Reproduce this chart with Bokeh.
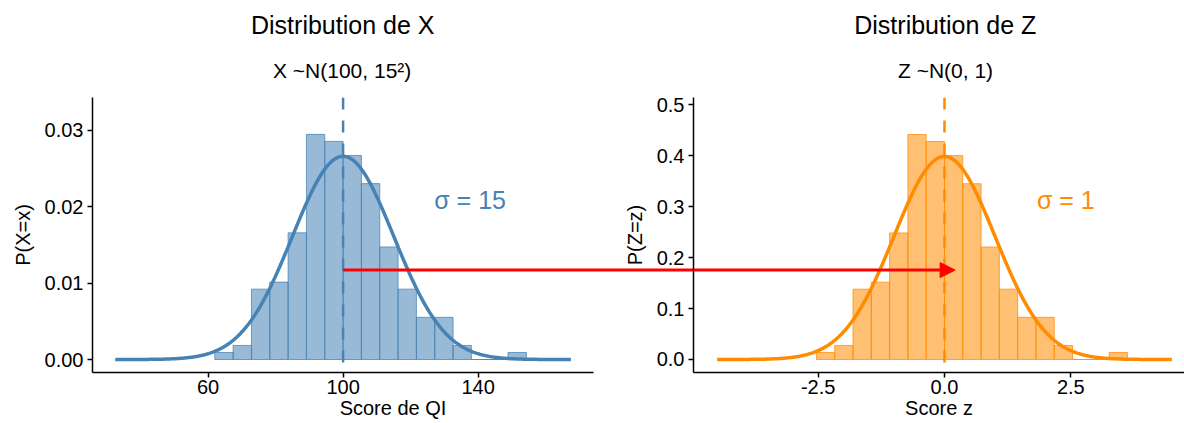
import numpy as np
from bokeh.plotting import figure
from bokeh.layouts import row
from bokeh.models import (FixedTicker, NumeralTickFormatter, Span, Label, Arrow,
                          NormalHead, Range1d, ColumnDataSource, Title)
from bokeh.embed import file_html
from bokeh.resources import INLINE

# ---------------- data ----------------
MU_X, SIGMA_X = 100, 15          # X ~ N(100, 15^2)
MU_Z, SIGMA_Z = 0, 1             # Z ~ N(0, 1)
N_OBS = 200
bin_edges_z = [-2.534, -2.172, -1.810, -1.448, -1.086, -0.724, -0.362, 0.0,
               0.362, 0.724, 1.086, 1.448, 1.810, 2.172, 2.534, 2.896, 3.258, 3.620]
counts = [1, 2, 10, 11, 18, 32, 31, 29, 25, 16, 10, 6, 6, 2, 0, 0, 1]

x_ticks = [60, 100, 140]
z_ticks = [-2.5, 0.0, 2.5]
px_ticks = [0.00, 0.01, 0.02, 0.03]
pz_ticks = [0.0, 0.1, 0.2, 0.3, 0.4, 0.5]
titles = ["Distribution de X", "Distribution de Z"]
subtitles = ["X ~N(100, 15²)", "Z ~N(0, 1)"]
sigma_labels = ["σ = 15", "σ = 1"]
x_labels = ["Score de QI", "Score z"]
y_labels = ["P(X=x)", "P(Z=z)"]

FONT = "Liberation Sans"
STEEL = "#4682B4"
ORANGE = "#FF8C00"
H = 423
TOP, BOTTOM = 97, 51
FRAME_H = H - TOP - BOTTOM
OVERLAP = 93   # right figure's left border overlaps the left figure


def panel(mu, sigma, color, width, bl, br, xr, xbounds, yr, xt, yt, yfmt, xfmt,
          title, subtitle, title_off, sub_off, sig_text, sig_x, sig_y, xlab, ylab):
    p = figure(width=width, height=H, x_range=Range1d(*xr), y_range=Range1d(*yr),
               output_backend="svg", toolbar_location=None,
               min_border_left=bl, min_border_right=br,
               min_border_top=TOP, min_border_bottom=BOTTOM)
    p.xgrid.visible = False
    p.ygrid.visible = False
    p.outline_line_color = None

    # histogram (density scale)
    edges = mu + sigma * np.array(bin_edges_z)
    bw = edges[1] - edges[0]
    dens = np.array(counts) / (N_OBS * bw)
    src = ColumnDataSource(dict(left=edges[:-1], right=edges[1:], top=dens,
                                bottom=np.zeros(len(dens))))
    p.quad(left="left", right="right", top="top", bottom="bottom", source=src,
           fill_color=color, fill_alpha=0.55, line_color=color, line_alpha=0.75,
           line_width=1)

    # theoretical normal density N(mu, sigma^2)
    xs = np.linspace(mu - 4.5 * sigma, mu + 4.5 * sigma, 400)
    ys = np.exp(-0.5 * ((xs - mu) / sigma) ** 2) / (sigma * np.sqrt(2 * np.pi))
    p.line(xs, ys, line_color=color, line_width=3.5)

    p.add_layout(Span(location=mu, dimension="height", line_color=color,
                      line_width=2.5, line_dash="12 11"))

    p.add_layout(Label(x=sig_x, y=sig_y, text=sig_text, text_align="left",
                       text_baseline="middle", text_font=FONT,
                       text_font_size="25px", text_color=color))

    # subtitle first (closest to frame), then main title above it
    p.add_layout(Title(text=subtitle, align="left", offset=sub_off,
                       vertical_align="top", standoff=28, text_font=FONT,
                       text_font_size="21px", text_font_style="normal",
                       text_color="black"), "above")
    p.add_layout(Title(text=title, align="left", offset=title_off,
                       vertical_align="top", standoff=8, text_font=FONT,
                       text_font_size="25px", text_font_style="normal",
                       text_color="black"), "above")

    for ax in (p.xaxis[0], p.yaxis[0]):
        ax.axis_line_color = "black"
        ax.axis_line_width = 1.5
        ax.major_tick_line_color = "black"
        ax.major_tick_line_width = 1.5
        ax.major_tick_in = 0
        ax.major_tick_out = 5
        ax.minor_tick_line_color = None
        ax.major_label_text_font = FONT
        ax.major_label_text_font_size = "20px"
        ax.major_label_text_color = "black"
        ax.axis_label_text_font = FONT
        ax.axis_label_text_font_size = "20px"
        ax.axis_label_text_font_style = "normal"
        ax.axis_label_text_color = "black"
    p.xaxis[0].bounds = xbounds
    p.xaxis[0].ticker = FixedTicker(ticks=xt)
    p.yaxis[0].ticker = FixedTicker(ticks=yt)
    p.xaxis[0].formatter = NumeralTickFormatter(format=xfmt)
    p.yaxis[0].formatter = NumeralTickFormatter(format=yfmt)
    p.xaxis[0].major_label_standoff = 2
    p.xaxis[0].axis_label_standoff = 0
    p.yaxis[0].major_label_standoff = 4
    p.yaxis[0].axis_label_standoff = 8
    p.xaxis[0].axis_label = xlab
    p.yaxis[0].axis_label = ylab
    return p


left_yr = (-0.0017, 0.03429)
right_yr = (-0.02554, 0.5147)
X_PPU = 3.375      # pixels per X unit
Z_PPU = 50.53      # pixels per z unit
L_FRAME_LEFT, R_FRAME_LEFT = 92, 693
left_w = 600 + OVERLAP
left_xr = (25.75, 25.75 + (left_w - L_FRAME_LEFT) / X_PPU)
right_w = 1184 - 600
right_xr = (-4.967, -4.967 + (1184 - R_FRAME_LEFT) / Z_PPU)

# title placement: centre of text over the mean, using estimated text widths
L_CENTER, R_CENTER = 342.5, 945.0
W_TITLE = [184.0, 182.5]
W_SUB = [140.0, 95.0]

p1 = panel(MU_X, SIGMA_X, STEEL, left_w, L_FRAME_LEFT, 0, left_xr, (25.75, 174.2),
           left_yr, x_ticks, px_ticks, "0.00", "0", titles[0], subtitles[0],
           L_CENTER - L_FRAME_LEFT - W_TITLE[0] / 2,
           L_CENTER - L_FRAME_LEFT - W_SUB[0] / 2,
           sigma_labels[0], 127.0, 0.02084, x_labels[0], y_labels[0])
p2 = panel(MU_Z, SIGMA_Z, ORANGE, right_w, R_FRAME_LEFT - 600, 0, right_xr,
           (-4.967, 4.75), right_yr, z_ticks, pz_ticks, "0.0", "0.0",
           titles[1], subtitles[1],
           R_CENTER - R_FRAME_LEFT - W_TITLE[1] / 2,
           R_CENTER - R_FRAME_LEFT - W_SUB[1] / 2,
           sigma_labels[1], 1.83, 0.3128, x_labels[1], y_labels[1])
p1.background_fill_color = "white"
p1.border_fill_color = "white"
p2.background_fill_color = None
p2.border_fill_color = None
p2.margin = (0, 0, 0, -OVERLAP)

# red arrow crossing from X panel to Z panel
ARROW_PX_BELOW_TOP = 172.6
yA1 = left_yr[1] - ARROW_PX_BELOW_TOP * (left_yr[1] - left_yr[0]) / FRAME_H
yA2 = right_yr[1] - ARROW_PX_BELOW_TOP * (right_yr[1] - right_yr[0]) / FRAME_H
p1.add_layout(Arrow(end=None, x_start=MU_X, y_start=yA1, x_end=400, y_end=yA1,
                    line_color="red", line_width=3))
p2.add_layout(Arrow(end=NormalHead(size=15, fill_color="red", line_color="red"),
                    x_start=-8, y_start=yA2, x_end=0.21, y_end=yA2,
                    line_color="red", line_width=3))

layout = row(p1, p2)
open("out.html", "w").write(file_html(layout, INLINE))
